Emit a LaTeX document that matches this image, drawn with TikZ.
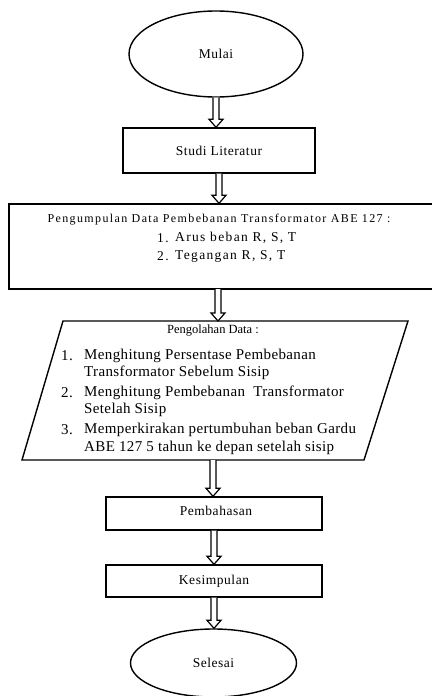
\documentclass[tikz,border=0pt]{standalone}
\usepackage{fontspec}
\setmainfont{Liberation Serif}
\newfontfamily\lblfont[LetterSpace=4]{Liberation Serif}
\newfontfamily\headfont[LetterSpace=11.5]{Liberation Serif}
\newfontfamily\lstfont[LetterSpace=10]{Liberation Serif}
\newfontfamily\plstfont[LetterSpace=2.5]{Liberation Serif}
\usetikzlibrary{shapes.geometric,calc}
\tikzset{
  box/.style={draw, line width=1.4pt, rectangle, inner sep=0pt},
  term/.style={draw, line width=1.4pt, ellipse, inner sep=0pt},
  txt/.style={inner sep=0pt, font=\lblfont\fontsize{13.5}{15}\selectfont},
  headtxt/.style={inner sep=0pt, font=\headfont\fontsize{12}{14}\selectfont},
  lsttxt/.style={inner sep=0pt, anchor=west, font=\lstfont\fontsize{13.5}{15}\selectfont},
  ptxt/.style={inner sep=0pt, font=\fontsize{12.5}{14}\selectfont},
  plst/.style={inner sep=0pt, anchor=west, font=\plstfont\fontsize{15}{17}\selectfont},
  arr/.style={draw, fill=white, line width=1.2pt, line join=miter},
}
\newcommand\blockarr[2]{%
  \path[arr] let \p1=(#1), \p2=(#2) in
    (\x1-3pt,\y1) -- (\x1-3pt,\y2+8pt) -- (\x1-7pt,\y2+8pt) -- (\x1,\y2)
    -- (\x1+7pt,\y2+8pt) -- (\x1+3pt,\y2+8pt) -- (\x1+3pt,\y1);}
\begin{document}
\begin{tikzpicture}[x=1pt,y=-1pt]
\useasboundingbox (0,0) rectangle (431,696);
% Mulai
\node[term, minimum width=174pt, minimum height=86pt] (mulai) at (216,54) {};
\node[txt] (tmulai) at (216,54) {Mulai};
% Studi
\node[box, minimum width=192pt, minimum height=45pt] (studi) at (219,150.5) {};
\node[txt] (tstudi) at (219,150.5) {Studi Literatur};
% Data
\node[box, minimum width=426pt, minimum height=85pt] (data) at (222,246.5) {};
\node[headtxt] (d1) at (219,220) {Pengumpulan Data Pembebanan Transformator ABE 127 :};
\node[lsttxt] (d2n) at (157,238) {1.};
\node[lsttxt] (d2) at (175,238) {Arus beban R, S, T};
\node[lsttxt] (d3n) at (157,256) {2.};
\node[lsttxt] (d3) at (175,256) {Tegangan R, S, T};
\coordinate (dbot) at (218,289);
% Parallelogram
\coordinate (p1) at (63,321);
\coordinate (p2) at (408,321);
\coordinate (p3) at (364,460);
\coordinate (p4) at (22,460);
\draw[line width=1.4pt, line join=miter] (p1) -- (p2) -- (p3) -- (p4) -- cycle;
\coordinate (ptop) at (218,321);
\coordinate (pbot) at (213,460);
\node[ptxt] (ph) at (213,331) {Pengolahan Data :};
\node[plst] (n1) at (61,356) {1.};
\node[plst] (l1) at (84,356) {Menghitung Persentase Pembebanan};
\node[plst] (l2) at (84,373) {Transformator Sebelum Sisip};
\node[plst] (n2) at (61,393) {2.};
\node[plst] (l3) at (84,393) {Menghitung Pembebanan\ \ Transformator};
\node[plst] (l4) at (84,410) {Setelah Sisip};
\node[plst] (n3) at (61,430) {3.};
\node[plst] (l5) at (84,430) {Memperkirakan pertumbuhan beban Gardu};
\node[plst] (l6) at (84,448) {ABE 127 5 tahun ke depan setelah sisip};
% Pembahasan
\node[box, minimum width=216pt, minimum height=33pt] (pemb) at (214,513.5) {};
\node[txt] (tpemb) at (216,511) {Pembahasan};
% Kesimpulan
\node[box, minimum width=216pt, minimum height=32pt] (kes) at (214,581) {};
\node[txt] (tkes) at (214,581) {Kesimpulan};
% Selesai
\node[term, minimum width=166pt, minimum height=68pt] (sel) at (213.5,663) {};
\node[txt] (tsel) at (213.5,663) {Selesai};
% arrows
\blockarr{mulai.south}{studi.north}
\blockarr{studi.south}{data.north}
\blockarr{dbot}{ptop}
\blockarr{pbot}{pemb.north}
\blockarr{pemb.south}{kes.north}
\blockarr{kes.south}{sel.north}
\end{tikzpicture}
\end{document}
